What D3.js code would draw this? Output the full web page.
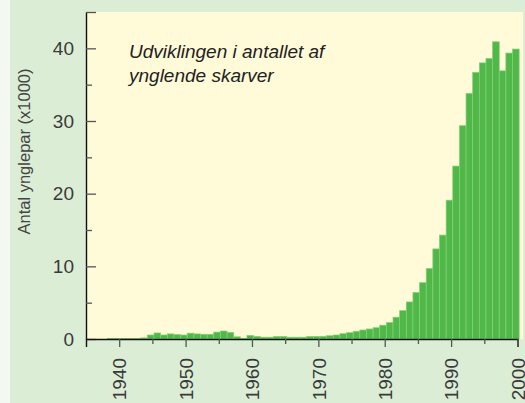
<!DOCTYPE html>
<html>
<head>
<meta charset="utf-8">
<script src="https://cdn.jsdelivr.net/npm/d3@7"></script>
<style>
  body { margin: 0; background: #dcedd6; }
  svg { display: block; }
  text { font-family: "Liberation Sans", Arial, sans-serif; }
</style>
</head>
<body>
<svg width="525" height="403"></svg>
<script>
// breeding pairs of cormorants, thousands
const years = d3.range(1938, 2000);
const pairs = [
  0.05, 0.05, 0.05, 0.05, 0.05, 0.15,
  0.55, 0.83, 0.55, 0.7, 0.6, 0.55, 0.8, 0.7, 0.65, 0.65,
  0.95, 1.1, 0.9, 0.3, 0.1, 0.5, 0.35, 0.25, 0.25, 0.35,
  0.35, 0.25, 0.25, 0.25, 0.35, 0.35, 0.37, 0.45, 0.55, 0.73,
  0.87, 1.06, 1.24, 1.38, 1.55, 1.9, 2.25, 3.0, 3.9, 5.1,
  6.4, 7.75, 9.7, 12.4, 14.3, 19.1, 23.8, 29.35, 33.8, 36.7,
  38.0, 38.6, 40.9, 36.9, 39.35, 39.9
];
const yMajor = [0, 10, 20, 30, 40, 45];
const yMinor = [5, 15, 25, 35];
const xMajor = [1940, 1950, 1960, 1970, 1980, 1990, 2000];
const xMinor = [1945, 1955, 1965, 1975, 1985, 1995];
const title = ["Udviklingen i antallet af", "ynglende skarver"];
const yLabel = "Antal ynglepar (x1000)";

const $svg = d3.select('svg');
const mLeft = 86, mTop = 12, mBottom = 339, mRight = 517.5;

const x = d3.scaleLinear().domain([1935, 2000]).range([mLeft, mRight]);
const y = d3.scaleLinear().domain([0, 45]).range([mBottom, mTop]);

$svg.append('rect')
  .attr('x', 0).attr('y', 0).attr('width', 10).attr('height', 403)
  .attr('fill', '#f3f8f0');

$svg.append('rect')
  .attr('x', mLeft).attr('y', mTop)
  .attr('width', 523 - mLeft).attr('height', mBottom - mTop)
  .attr('fill', '#fffad8');

// bars sit a quarter year to the right of the tick
$svg.append('g').selectAll('rect')
  .data(years)
  .enter()
  .append('rect')
    .attr('x', (d) => x(d + 0.25))
    .attr('width', (d) => x(d + 1.25) - x(d + 0.25))
    .attr('y', (d, i) => y(pairs[i]))
    .attr('height', (d, i) => y(0) - y(pairs[i]))
    .attr('fill', '#4fb848')
    .attr('stroke', '#86cf78')
    .attr('stroke-width', 0.7);

// y axis, ticks inward
const yAxis = $svg.append('g')
  .attr('transform', `translate(${mLeft},0)`)
  .call(d3.axisLeft(y).tickValues(yMajor)
    .tickFormat((d) => d === 45 ? '' : d)
    .tickSizeInner(-10).tickSizeOuter(0).tickPadding(12));
$svg.append('g')
  .attr('transform', `translate(${mLeft},0)`)
  .call(d3.axisLeft(y).tickValues(yMinor).tickFormat('')
    .tickSizeInner(-6).tickSizeOuter(0))
  .select('.domain').remove();

// x axis
const xAxis = $svg.append('g')
  .attr('transform', `translate(0,${mBottom})`)
  .call(d3.axisBottom(x).tickValues(xMajor).tickFormat(d3.format('d'))
    .tickSizeInner(8).tickSizeOuter(8).tickPadding(0));
$svg.append('g')
  .attr('transform', `translate(0,${mBottom})`)
  .call(d3.axisBottom(x).tickValues(xMinor).tickFormat('')
    .tickSizeInner(5).tickSizeOuter(0))
  .select('.domain').remove();

xAxis.selectAll('text')
  .attr('transform', 'rotate(-90)')
  .attr('x', -19).attr('y', 0).attr('dy', '0.35em')
  .attr('text-anchor', 'end');

$svg.selectAll('.tick line').attr('stroke', '#555').attr('stroke-width', 1.3);
$svg.selectAll('.domain').attr('stroke', '#111').attr('stroke-width', 1.4);
$svg.selectAll('.tick text')
  .attr('font-size', 19).attr('fill', '#3a3a3a')
  .attr('font-family', '"Liberation Sans", Arial, sans-serif');

$svg.append('text')
  .attr('transform', `translate(30,${(mTop + mBottom) / 2 - 24}) rotate(-90)`)
  .attr('text-anchor', 'middle')
  .attr('font-size', 16.5).attr('fill', '#444')
  .text(yLabel);

$svg.append('g').selectAll('text')
  .data(title)
  .enter()
  .append('text')
    .attr('x', 129)
    .attr('y', (d, i) => 58 + i * 23.5)
    .attr('font-size', 19).attr('font-style', 'italic').attr('fill', '#222')
    .text((d) => d);
</script>
</body>
</html>
